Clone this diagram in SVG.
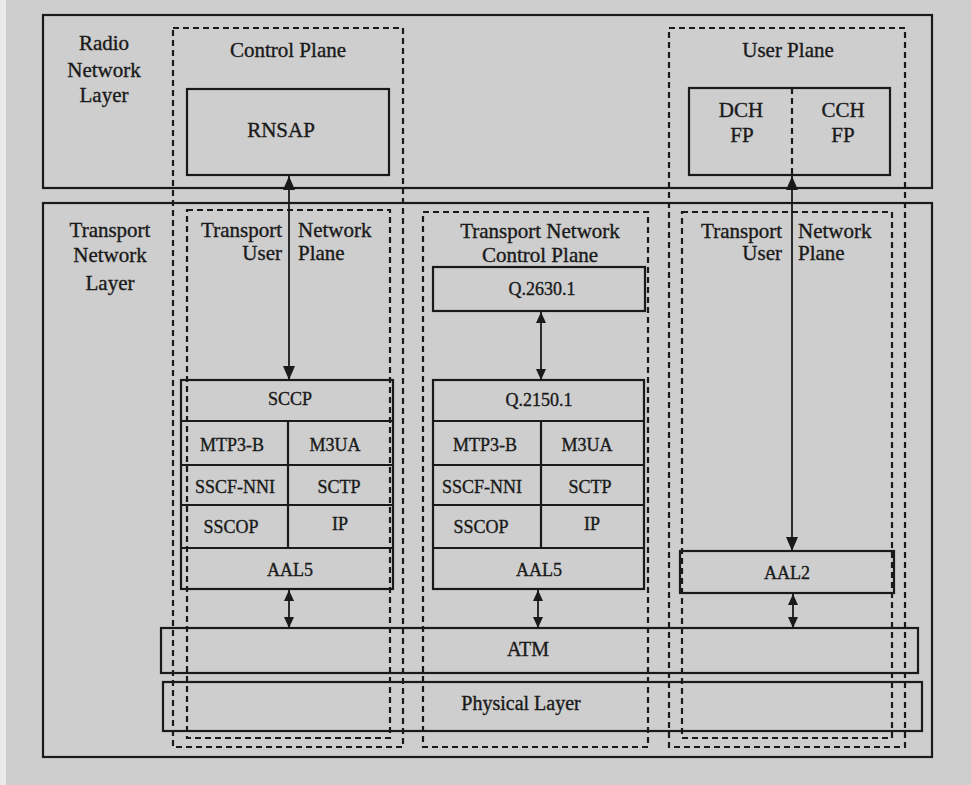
<svg xmlns="http://www.w3.org/2000/svg" width="971" height="785" viewBox="0 0 971 785">
<defs>
<style>
.box{fill:none;stroke:#1a1a1a;stroke-width:2.2}
.dash{fill:none;stroke:#1a1a1a;stroke-width:2.2;stroke-dasharray:6 4}
.conn{fill:none;stroke:#1a1a1a;stroke-width:1.8}
.t{font-family:"Liberation Serif","Times New Roman",serif;font-size:21px;fill:#1a1a1a;stroke:#1a1a1a;stroke-width:0.35;text-anchor:middle}
.s{font-family:"Liberation Serif","Times New Roman",serif;font-size:18px;fill:#1a1a1a;stroke:#1a1a1a;stroke-width:0.35;text-anchor:middle}
.m{font-size:20px}
.e{text-anchor:end}
.b{text-anchor:start}
</style>
<marker id="ah" viewBox="0 0 14 12" refX="14" refY="6" markerWidth="14" markerHeight="12" markerUnits="userSpaceOnUse" orient="auto-start-reverse">
<path d="M0,0 L14,6 L0,12 Z" fill="#1a1a1a"/>
</marker>
<marker id="ahs" viewBox="0 0 11 10" refX="11" refY="5" markerWidth="11" markerHeight="10" markerUnits="userSpaceOnUse" orient="auto-start-reverse">
<path d="M0,0 L11,5 L0,10 Z" fill="#1a1a1a"/>
</marker>
</defs>
<rect x="0" y="0" width="971" height="785" fill="#cecece"/>
<rect x="0" y="0" width="6" height="785" fill="#ebebeb"/>

<g id="radio-network-layer">
<rect class="box" x="43" y="15" width="889" height="173"/>
<text class="t" x="104" y="50">Radio</text>
<text class="t" x="104" y="77">Network</text>
<text class="t" x="104" y="102">Layer</text>
</g>

<g id="transport-network-layer">
<rect class="box" x="43" y="203" width="889" height="554"/>
<text class="t" x="110" y="237">Transport</text>
<text class="t" x="110" y="262">Network</text>
<text class="t" x="110" y="290">Layer</text>
</g>

<g id="control-plane">
<rect class="dash" x="173" y="28" width="230" height="719"/>
<text class="t" x="288" y="57">Control Plane</text>
</g>

<g id="user-plane">
<rect class="dash" x="669" y="28" width="236" height="719"/>
<text class="t" x="788" y="57">User Plane</text>
</g>

<g id="tn-control-plane">
<rect class="dash" x="423" y="212" width="225" height="535"/>
<text class="t" x="540" y="238">Transport Network</text>
<text class="t" x="540" y="262">Control Plane</text>
</g>

<g id="tn-user-plane-left">
<rect class="dash" x="187" y="210" width="203" height="528"/>
<text class="t e" x="282" y="237">Transport</text>
<text class="t b" x="298" y="237">Network</text>
<text class="t e" x="282" y="260">User</text>
<text class="t b" x="298" y="260">Plane</text>
</g>

<g id="tn-user-plane-right">
<rect class="dash" x="682" y="212" width="210" height="526"/>
<text class="t e" x="782" y="238">Transport</text>
<text class="t b" x="798" y="238">Network</text>
<text class="t e" x="782" y="260">User</text>
<text class="t b" x="798" y="260">Plane</text>
</g>

<g id="rnsap">
<rect class="box" x="187" y="89" width="202" height="86"/>
<text class="t" x="281" y="137">RNSAP</text>
</g>

<g id="fp">
<rect class="box" x="689" y="88" width="201" height="87"/>
<line class="dash" x1="792" y1="88" x2="792" y2="175"/>
<text class="t" x="741" y="117">DCH</text>
<text class="t" x="742" y="142">FP</text>
<text class="t" x="843" y="117">CCH</text>
<text class="t" x="843" y="142">FP</text>
</g>

<g id="stack-left">
<rect class="box" x="181" y="380" width="212" height="209"/>
<line class="box" x1="181" y1="421" x2="393" y2="421"/>
<line class="box" x1="181" y1="465" x2="393" y2="465"/>
<line class="box" x1="181" y1="505" x2="393" y2="505"/>
<line class="box" x1="181" y1="548" x2="393" y2="548"/>
<line class="box" x1="288" y1="421" x2="288" y2="548"/>
<text class="s" x="290" y="405">SCCP</text>
<text class="s" x="232" y="451">MTP3-B</text>
<text class="s" x="335" y="451">M3UA</text>
<text class="s" x="235" y="493">SSCF-NNI</text>
<text class="s" x="339" y="493">SCTP</text>
<text class="s" x="231" y="533">SSCOP</text>
<text class="s" x="340" y="530">IP</text>
<text class="s" x="290" y="576">AAL5</text>
</g>

<g id="q2630">
<rect class="box" x="433" y="267" width="212" height="44"/>
<text class="s" x="542" y="295">Q.2630.1</text>
</g>

<g id="stack-middle">
<rect class="box" x="433" y="380" width="211" height="209"/>
<line class="box" x1="433" y1="421" x2="644" y2="421"/>
<line class="box" x1="433" y1="465" x2="644" y2="465"/>
<line class="box" x1="433" y1="505" x2="644" y2="505"/>
<line class="box" x1="433" y1="548" x2="644" y2="548"/>
<line class="box" x1="541" y1="421" x2="541" y2="548"/>
<text class="s" x="539" y="406">Q.2150.1</text>
<text class="s" x="485" y="451">MTP3-B</text>
<text class="s" x="587" y="451">M3UA</text>
<text class="s" x="482" y="493">SSCF-NNI</text>
<text class="s" x="590" y="493">SCTP</text>
<text class="s" x="481" y="533">SSCOP</text>
<text class="s" x="592" y="530">IP</text>
<text class="s" x="539" y="576">AAL5</text>
</g>

<g id="aal2">
<rect class="box" x="680" y="551" width="214" height="42"/>
<text class="s" x="787" y="579">AAL2</text>
</g>

<g id="atm">
<rect class="box" x="161" y="628" width="757" height="45"/>
<text class="t m" x="528" y="656">ATM</text>
</g>

<g id="physical-layer">
<rect class="box" x="163" y="682" width="759" height="49"/>
<text class="t m" x="521" y="710">Physical Layer</text>
</g>

<g id="connectors">
<line class="conn" x1="289" y1="176" x2="289" y2="380" marker-start="url(#ah)" marker-end="url(#ah)"/>
<line class="conn" x1="792" y1="176" x2="792" y2="551" marker-start="url(#ah)" marker-end="url(#ah)"/>
<line class="conn" x1="541" y1="312" x2="541" y2="380" marker-start="url(#ahs)" marker-end="url(#ahs)"/>
<line class="conn" x1="289" y1="590" x2="289" y2="628" marker-start="url(#ahs)" marker-end="url(#ahs)"/>
<line class="conn" x1="538" y1="590" x2="538" y2="628" marker-start="url(#ahs)" marker-end="url(#ahs)"/>
<line class="conn" x1="793" y1="594" x2="793" y2="628" marker-start="url(#ahs)" marker-end="url(#ahs)"/>
</g>
</svg>
